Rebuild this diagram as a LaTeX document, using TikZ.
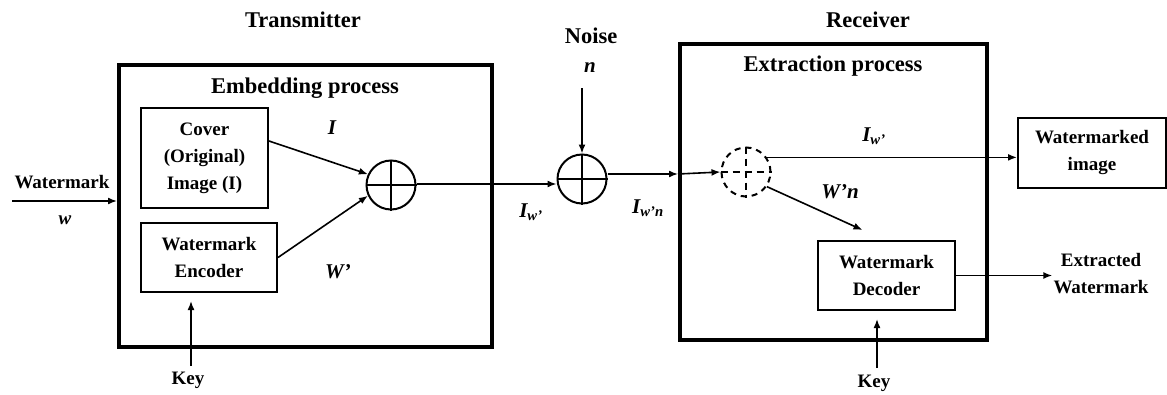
\documentclass[tikz,border=0pt]{standalone}
\usepackage{fontspec}
\setmainfont{Liberation Serif}
\usetikzlibrary{arrows.meta}
\begin{document}
\begin{tikzpicture}[x=1pt,y=-1pt,
  inner/.style={draw, line width=2pt, align=center, inner sep=0pt, font=\fontsize{19}{27}\selectfont\bfseries},
  arr/.style={line width=1.6pt, -{Latex[length=9pt,width=7pt]}},
  lbl/.style={font=\fontsize{19}{27}\selectfont\bfseries, align=center, inner sep=1pt},
  ttl/.style={font=\fontsize{22.5}{26}\selectfont\bfseries, inner sep=1pt},
  mlbl/.style={font=\fontsize{21}{24}\selectfont\bfseries\itshape, inner sep=1pt},
  sumc/.style={circle, draw, line width=2pt, minimum size=49pt, inner sep=0pt},
  dsumc/.style={circle, draw, dashed, dash pattern=on 6pt off 5pt, line width=2pt, minimum size=49pt, inner sep=0pt}]
\useasboundingbox (0,0) rectangle (1167,394);

% titles
\node[ttl] (ttx) at (303,20) {Transmitter};
\node[ttl] (trx) at (868,20) {Receiver};
\node[ttl] (tnoise) at (591,36) {Noise};
\node[mlbl] (nl) at (590,68) {n};

% outer boxes
\node[draw, line width=3.5pt, minimum width=373pt, minimum height=282pt, anchor=north west, inner sep=0pt] (tx) at (117,63) {};
\node[draw, line width=3.5pt, minimum width=307pt, minimum height=296pt, anchor=north west, inner sep=0pt] (rx) at (678,42) {};
\node[ttl] (emb) at (305,88) {Embedding process};
\node[ttl] (ext) at (833,66) {Extraction process};

% inner boxes
\node[inner, minimum width=127pt, minimum height=100pt, anchor=north west] (cover) at (140,107) {Cover\\(Original)\\Image (I)};
\node[inner, minimum width=136pt, minimum height=69pt, anchor=north west] (enc) at (140,222) {Watermark\\Encoder};
\node[inner, minimum width=137pt, minimum height=69pt, anchor=north west] (dec) at (817,240) {Watermark\\Decoder};
\node[inner, minimum width=148pt, minimum height=70pt, anchor=north west] (wimg) at (1017,117) {Watermarked\\image};

% summing circles
\node[sumc] (c1) at (391,185) {};
\draw[line width=2pt] (c1.north) -- (c1.south) (c1.west) -- (c1.east);
\node[sumc] (c2) at (582,179) {};
\draw[line width=2pt] (c2.north) -- (c2.south) (c2.west) -- (c2.east);
\node[dsumc] (d) at (746,172) {};
\draw[line width=2pt, dashed, dash pattern=on 7pt off 5pt] (d.north) -- (d.south) (d.west) -- (d.east);

% external labels
\node[lbl] (wm) at (62,182) {Watermark};
\node[mlbl, font=\fontsize{19}{22}\selectfont\bfseries\itshape] (wl) at (65,220) {w};
\coordinate (win) at (12,201);
\node[lbl] (key1) at (188,380) {Key};
\node[lbl] (key2) at (874,383) {Key};
\coordinate (k1) at (191,366);
\coordinate (k2) at (877,368);
\coordinate (nin) at (582,88);
\node[lbl] (exw) at (1101,274) {Extracted\\Watermark};

% signal labels
\node[mlbl] (lI) at (332,128) {I};
\node[mlbl] (lW) at (338,272) {W’};
\node[mlbl] (lIw) at (531,212) {I\textsubscript{w’}};
\node[mlbl] (lIwn) at (648,208) {I\textsubscript{w’n}};
\node[mlbl] (lIw2) at (874,136) {I\textsubscript{w’}};
\node[mlbl] (lWn) at (840,192) {W’n};

% connectors
\draw[arr] (win) -- (win -| tx.west);
\draw[arr] ([yshift=17pt]cover.east) -- (c1.155);
\draw[arr] (enc.east) -- (c1.205);
\draw[arr] (k1) -- (k1 |- 0,301);
\draw[arr] ([yshift=1pt]c1.east) -- ([yshift=1pt]c2.west |- c1.east);
\draw[arr] (nin) -- (c2.north);
\coordinate (rxin) at ([yshift=5pt]c2.east -| rx.west);
\draw[arr] ([yshift=5pt]c2.east) -- (rxin);
\draw[arr] (rxin) -- (d.west);
\draw[arr] (d.35) -- (d.35 -| wimg.west);
\draw[arr] (d.-35) -- ([xshift=-24pt,yshift=10pt]dec.north);
\draw[arr] (dec.east) -- (dec.east -| exw.west);
\draw[arr] (k2) -- (k2 |- 0,319);
\end{tikzpicture}
\end{document}
